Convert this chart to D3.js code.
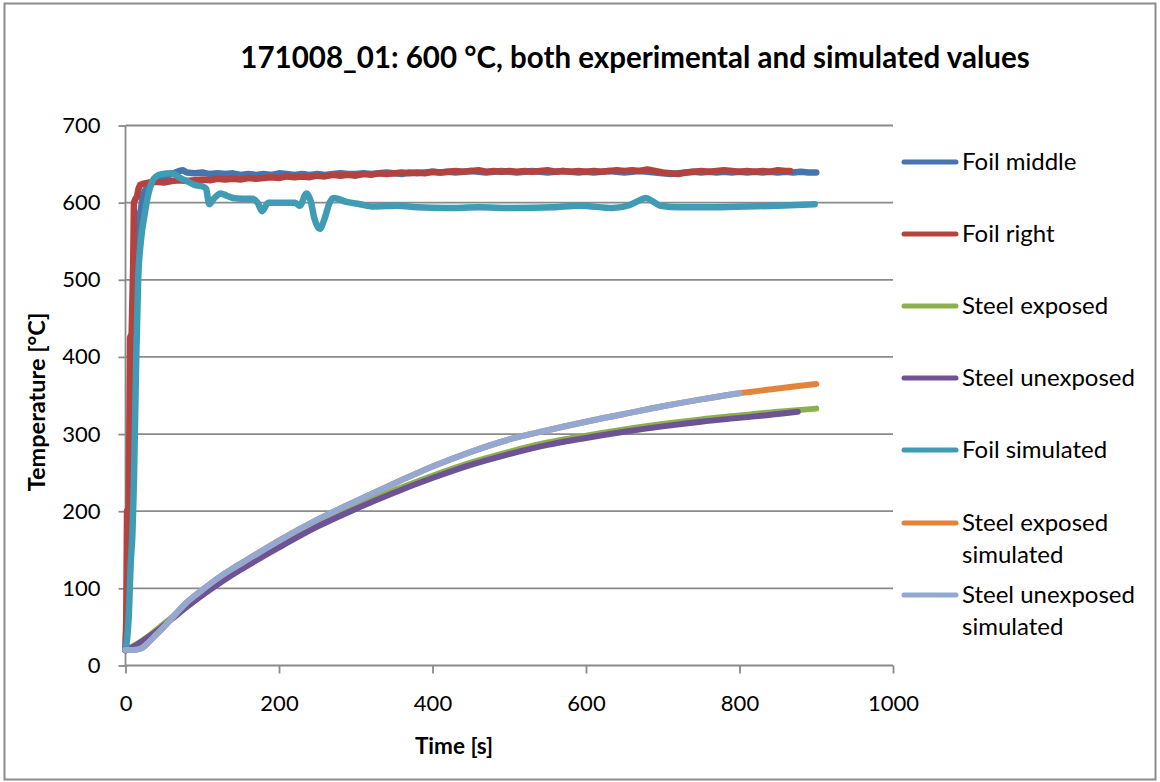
<!DOCTYPE html>
<html>
<head>
<meta charset="utf-8">
<script src="https://cdn.jsdelivr.net/npm/d3@7"></script>
<style>
  body { margin: 0; background: #fff; }
  svg { display: block; font-family: Lato, "Open Sans", sans-serif; }
</style>
</head>
<body>
<svg id="chart" width="1160" height="782"></svg>
<script>
// ---- data: [time (s), temperature (°C)] ----
const titleText = "171008_01: 600 °C, both experimental and simulated values";
const xTicks = [0, 200, 400, 600, 800, 1000];
const yTicks = [0, 100, 200, 300, 400, 500, 600, 700];

const foilMiddle = [
  [0,20],[3,100],[6,250],[9,400],[12,500],[15,560],[18,585],[20,590],[22,605],[25,615],
  [30,622],[40,630],[50,633],[60,637],[70,641],[75,642],[80,639],[90,638],[100,639],[110,637],
  [120,638],[130,637],[140,638],[150,636],[160,637],[170,636],[180,637],[190,636],[200,638],[210,637],
  [220,636],[230,637],[240,636],[250,637],[260,636],[270,637],[280,638],[290,637],[300,637],[310,638],
  [320,637],[330,638],[340,639],[350,638],[360,637],[370,639],[380,638],[390,639],[400,640],[410,639],
  [420,640],[430,639],[440,640],[450,641],[460,640],[470,639],[480,640],[490,641],[500,640],[510,639],
  [520,640],[530,641],[540,640],[550,639],[560,640],[570,641],[580,640],[590,639],[600,640],[610,639],
  [620,640],[630,641],[640,640],[650,639],[660,640],[670,641],[680,640],[690,639],[700,638],[710,637],
  [720,638],[730,639],[740,640],[750,639],[760,640],[770,639],[780,640],[790,639],[800,640],[810,639],
  [820,640],[830,639],[840,640],[850,639],[860,640],[870,639],[880,640],[890,639],[900,639]
];

const foilRight = [
  [0,20],[1,60],[2,200],[4,205],[5,300],[6,425],[8,430],[10,520],[11,600],[13,605],
  [15,608],[17,618],[19,623],[25,625],[30,626],[40,627],[50,626],[60,628],[70,629],[80,628],
  [90,629],[100,630],[110,629],[120,631],[130,630],[140,631],[150,630],[160,632],[170,631],[180,632],
  [190,633],[200,632],[210,634],[220,633],[230,634],[240,633],[250,635],[260,634],[270,636],[280,635],
  [290,636],[300,635],[310,637],[320,636],[330,638],[340,637],[350,638],[360,639],[370,638],[380,639],
  [390,638],[400,640],[410,639],[420,640],[430,641],[440,640],[450,641],[460,642],[470,640],[480,641],
  [490,640],[500,641],[510,640],[520,641],[530,640],[540,641],[550,642],[560,640],[570,641],[580,640],
  [590,641],[600,640],[610,641],[620,640],[630,641],[640,642],[650,641],[660,642],[670,641],[680,643],
  [690,641],[700,639],[710,638],[720,637],[730,639],[740,640],[750,641],[760,640],[770,641],[780,642],
  [790,641],[800,640],[810,641],[820,640],[830,641],[840,640],[850,642],[860,641],[866,641]
];

const steelExposed = [
  [0,20],[10,25],[20,31],[30,38],[40,46],[50,54],[60,62],[80,78],[100,94],[120,108],
  [140,121],[160,133],[200,156],[250,183],[300,206],[350,227],[400,246],[450,263],[500,277],
  [550,289],[600,298],[650,306],[700,313],[750,319],[800,324],[850,329],[900,333]
];

const steelUnexposed = [
  [0,20],[10,24],[20,30],[30,37],[40,44],[50,52],[60,60],[80,76],[100,91],[120,105],
  [140,118],[160,130],[200,153],[250,180],[300,203],[350,224],[400,243],[450,260],[500,274],
  [550,286],[600,295],[650,303],[700,310],[750,316],[800,321],[850,326],[876,329]
];

const foilSimulated = [
  [0,20],[4,60],[7,137],[9,170],[11,240],[14,400],[16.5,500],[20,550],[25,585],[30,612],
  [35,628],[40,634],[47,637],[60,638],[71,632],[80,628],[90,623],[101,621],[105,618],[109,598],[115,605],
  [124,612],[132,609],[140,606],[152,605],[165,605],[172,600],[178,589],[186,600],[200,600],[212,600],
  [221,600],[227,596],[236,612],[241,603],[246,580],[253,566],[259,578],[266,600],[271,606],[288,601],
  [305,598],[323,595],[354,596],[380,594],[419,593],[460,594],[506,593],[557,594],[592,596],[635,593],
  [657,597],[670,603],[678,606],[688,601],[697,596],[723,594],[760,594],[810,595],[850,596],[898,598]
];

const steelExposedSim = [
  [0,20],[10,20],[20,22],[30,30],[40,40],[50,50],[60,61],[80,82],[100,98],[120,113],
  [140,126],[160,138],[200,162],[250,189],[300,213],[350,236],[400,258],[450,277],[500,293],
  [550,305],[600,316],[650,326],[700,336],[750,345],[800,353],[850,359],[900,365]
];

const steelUnexposedSim = [
  [0,20],[10,20],[20,22],[30,30],[40,40],[50,50],[60,61],[80,82],[100,98],[120,113],
  [140,126],[160,138],[200,162],[250,189],[300,213],[350,236],[400,258],[450,277],[500,293],
  [550,305],[600,316],[650,326],[700,336],[750,345],[800,353]
];

const seriesNames = ["Foil middle", "Foil right", "Steel exposed", "Steel unexposed",
  "Foil simulated", "Steel exposed simulated", "Steel unexposed simulated"];
const seriesColors = ["#4674AE", "#B4423E", "#8DB04F", "#6D5395", "#409BB4", "#E2843A", "#93A9D1"];
const seriesData = [foilMiddle, foilRight, steelExposed, steelUnexposed,
  foilSimulated, steelExposedSim, steelUnexposedSim];
const smoothSeries = [false, false, true, true, true, true, true];

// ---- layout ----
const svg = d3.select("#chart");
const W = 1160, H = 782;
const plot = { left: 125.5, right: 893, top: 125.5, bottom: 665.5 };
const gridColor = "#8A8A8A";

const x = d3.scaleLinear().domain([0, 1000]).range([plot.left, plot.right]);
const y = d3.scaleLinear().domain([0, 700]).range([plot.bottom, plot.top]);

// outer frame
svg.append("rect")
  .attr("x", 4.5).attr("y", 3.5).attr("width", W - 9).attr("height", H - 6)
  .attr("fill", "#fff").attr("stroke", "#8C8C8C").attr("stroke-width", 2);

// horizontal gridlines
svg.append("g")
  .selectAll("line")
  .data(yTicks.filter(d => d > 0))
  .join("line")
  .attr("x1", plot.left).attr("x2", plot.right)
  .attr("y1", d => y(d)).attr("y2", d => y(d))
  .attr("stroke", gridColor).attr("stroke-width", 1.8);

// axes
const yAxis = svg.append("g")
  .attr("transform", `translate(${plot.left},0)`)
  .call(d3.axisLeft(y).tickValues(yTicks).tickFormat(d3.format("d")).tickSize(7).tickPadding(18));
const xAxis = svg.append("g")
  .attr("transform", `translate(0,${plot.bottom})`)
  .call(d3.axisBottom(x).tickValues(xTicks).tickFormat(d3.format("d")).tickSize(8).tickPadding(22));

[yAxis, xAxis].forEach(g => {
  g.select(".domain").attr("stroke", gridColor).attr("stroke-width", 1.8);
  g.selectAll(".tick line").attr("stroke", gridColor).attr("stroke-width", 1.8);
  g.selectAll(".tick text")
    .attr("fill", "#000")
    .style("font-family", "Lato, 'Open Sans', sans-serif")
    .style("font-size", "22px");
});
yAxis.select(".domain").attr("d", `M0,${plot.bottom}V${plot.top}`);
xAxis.select(".domain").attr("d", `M${plot.left},0H${plot.right}`);

// series lines
const lineLinear = d3.line().x(d => x(d[0])).y(d => y(d[1]));
const lineSmooth = d3.line().x(d => x(d[0])).y(d => y(d[1])).curve(d3.curveMonotoneX);

const plotG = svg.append("g");
seriesData.forEach((data, i) => {
  plotG.append("path")
    .datum(data)
    .attr("d", smoothSeries[i] ? lineSmooth : lineLinear)
    .attr("fill", "none")
    .attr("stroke", seriesColors[i])
    .attr("stroke-width", i < 2 || i === 4 ? 6.5 : 6)
    .attr("stroke-linejoin", "round")
    .attr("stroke-linecap", "round");
});

// title
svg.append("text")
  .attr("x", 635).attr("y", 68)
  .attr("text-anchor", "middle")
  .style("font-weight", "bold")
  .style("font-size", "29.5px")
  .text(titleText);

// axis titles
svg.append("text")
  .attr("transform", "translate(45,402) rotate(-90)")
  .attr("text-anchor", "middle")
  .style("font-weight", "bold")
  .style("font-size", "23.5px")
  .text("Temperature [°C]");

svg.append("text")
  .attr("x", 454).attr("y", 754)
  .attr("text-anchor", "middle")
  .style("font-weight", "bold")
  .style("font-size", "22.5px")
  .text("Time [s]");

// legend
const legendRows = [162, 234, 306, 378, 450, 523, 595];
const legendLines = [["Foil middle"], ["Foil right"], ["Steel exposed"], ["Steel unexposed"],
  ["Foil simulated"], ["Steel exposed", "simulated"], ["Steel unexposed", "simulated"]];
const legend = svg.append("g");
seriesNames.forEach((name, i) => {
  const cy = legendRows[i];
  legend.append("line")
    .attr("x1", 904).attr("x2", 956)
    .attr("y1", cy).attr("y2", cy)
    .attr("stroke", seriesColors[i]).attr("stroke-width", 5)
    .attr("stroke-linecap", "round");
  const t = legend.append("text")
    .attr("x", 962).attr("y", cy + 8)
    .style("font-size", "24px");
  legendLines[i].forEach((ln, k) => {
    t.append("tspan").attr("x", 962).attr("dy", k === 0 ? 0 : 32).text(ln);
  });
});
</script>
</body>
</html>
